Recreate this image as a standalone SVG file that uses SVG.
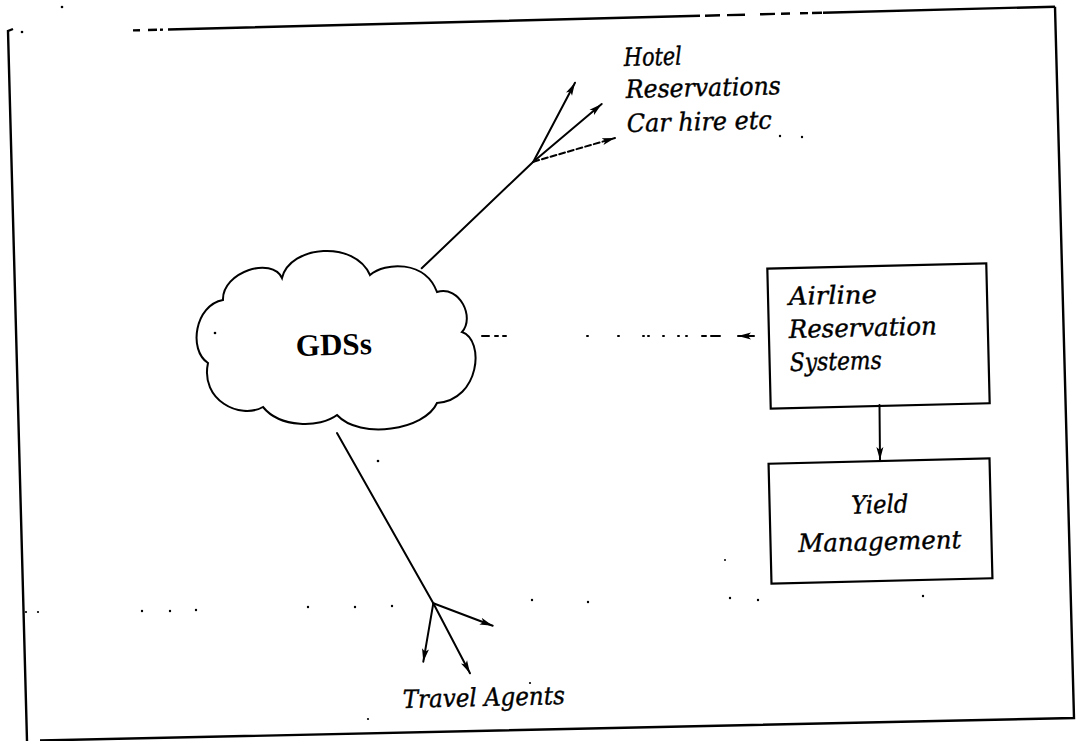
<svg xmlns="http://www.w3.org/2000/svg" width="1077" height="741" viewBox="0 0 1077 741">
<defs>
<style>
.ln{stroke:#000;stroke-width:2;fill:none;stroke-linecap:round}
.fr{stroke:#000;stroke-width:2.4;fill:none}
.bx{stroke:#000;stroke-width:2.2;fill:#fff}
.it{font-family:"DejaVu Serif","Liberation Serif",serif;font-style:italic;font-size:25px;fill:#000;stroke:#000;stroke-width:0.4}
.bd{font-family:"Liberation Serif","Times New Roman",serif;font-weight:bold;font-size:31px;fill:#000}
.sp{fill:#000}
</style>
<marker id="ah" markerUnits="userSpaceOnUse" markerWidth="14" markerHeight="8" refX="13" refY="4" orient="auto">
<path d="M0,0.5 L13,4 L0,7.5 L3,4 Z" fill="#000"/>
</marker>
</defs>
<rect width="1077" height="741" fill="#fff"/>
<g id="frame">
<path class="fr" d="M13,29 L8,31 L27,741"/>
<path class="fr" d="M133,30.4 L140,30.2 M148,30 L157,29.8 M160,29.7 L163,29.6 M168,29.5 L700,15.8 M705,15.7 L720,15.3 M727,15.1 L745,14.7 M760,14.3 L775,13.9 M781,13.7 L790,13.5 M800,13.3 L808,13.1 M812,13 L822,12.7 M823,12.7 L1055,6.7"/>
<path class="fr" d="M1055,6.7 L1074,718 L40,740.5"/>
</g>
<g id="gds">
<path class="ln" d="M223,300 C222,272 272,256 282,278 C290,245 355,240 370,275 C385,262 425,260 437,292 C460,285 475,318 462,332 C485,340 480,400 437,403 C425,430 360,440 337,415 C320,428 280,428 263,407 C240,420 200,400 208,363 C188,350 195,305 223,300 Z"/>
<text class="bd" x="334" y="355" text-anchor="middle" textLength="76" lengthAdjust="spacingAndGlyphs" transform="rotate(-1.4 334 355)">GDSs</text>
</g>
<g id="airline">
<rect class="bx" x="769" y="266" width="219" height="140" transform="rotate(-1.4 878 336)"/>
<text class="it" x="789" y="305" textLength="88" lengthAdjust="spacingAndGlyphs" transform="rotate(-1.4 789 305)">Airline</text>
<text class="it" x="789" y="338" textLength="148" lengthAdjust="spacingAndGlyphs" transform="rotate(-1.4 789 338)">Reservation</text>
<text class="it" x="790" y="371" textLength="92" lengthAdjust="spacingAndGlyphs" transform="rotate(-1.4 790 371)">Systems</text>
</g>
<g id="yield">
<rect class="bx" x="770" y="461" width="221" height="120" transform="rotate(-1.4 880 521)"/>
<text class="it" x="880" y="513" text-anchor="middle" textLength="57" lengthAdjust="spacingAndGlyphs" transform="rotate(-1.4 880 513)">Yield</text>
<text class="it" x="880" y="550" text-anchor="middle" textLength="163" lengthAdjust="spacingAndGlyphs" transform="rotate(-1.4 880 550)">Management</text>
</g>
<g id="hotel">
<text class="it" x="624" y="66" textLength="58" lengthAdjust="spacingAndGlyphs" transform="rotate(-1.4 624 66)">Hotel</text>
<text class="it" x="626" y="98" textLength="155" lengthAdjust="spacingAndGlyphs" transform="rotate(-1.4 626 98)">Reservations</text>
<text class="it" x="627" y="132" textLength="145" lengthAdjust="spacingAndGlyphs" transform="rotate(-1.4 627 132)">Car hire etc</text>
</g>
<g id="travel">
<text class="it" x="403" y="708" textLength="162" lengthAdjust="spacingAndGlyphs" transform="rotate(-1.4 403 708)">Travel Agents</text>
</g>
<g id="connectors">
<path class="ln" d="M421.7,268.3 L533.3,161.7"/>
<path class="ln" d="M533.3,161.7 L575,82.7" marker-end="url(#ah)"/>
<path class="ln" d="M533.3,161.7 L601.7,104" marker-end="url(#ah)"/>
<path class="ln" d="M533.3,161.7 L615,138" stroke-dasharray="6 3" marker-end="url(#ah)"/>
<path class="ln" d="M337,433 L433.3,603.3"/>
<path class="ln" d="M433.3,603.3 L423.3,661.7" marker-end="url(#ah)"/>
<path class="ln" d="M433.3,603.3 L470,673.3" marker-end="url(#ah)"/>
<path class="ln" d="M433.3,603.3 L492.7,625.7" marker-end="url(#ah)"/>
<path class="ln" d="M879.5,405 L880,460" marker-end="url(#ah)"/>
<path class="ln" d="M482,336 L489,336 M495,336 L498,336 M503,336 L506,336 M587,336 L588,336 M618,336 L619,336 M643,336 L644,336 M648,336 L649,336 M663,336 L664,336 M678,336 L679,336 M686,336 L687,336 M702,336 L706,336 M711,336 L720,336"/>
<path class="ln" d="M754,336 L738,336" marker-end="url(#ah)"/>
</g>
<g id="specks">
<circle class="sp" cx="62" cy="7" r="1.3"/>
<circle class="sp" cx="22" cy="32" r="1.3"/>
<circle class="sp" cx="215" cy="333" r="1.3"/>
<circle class="sp" cx="378" cy="461" r="1.3"/>
<circle class="sp" cx="780" cy="136" r="1.2"/>
<circle class="sp" cx="802" cy="137" r="1.2"/>
<circle class="sp" cx="26" cy="612" r="1.1"/>
<circle class="sp" cx="38" cy="612" r="1.1"/>
<circle class="sp" cx="142" cy="611" r="1.2"/>
<circle class="sp" cx="170" cy="611" r="1.2"/>
<circle class="sp" cx="196" cy="610" r="1.2"/>
<circle class="sp" cx="308" cy="607" r="1.2"/>
<circle class="sp" cx="355" cy="607" r="1.2"/>
<circle class="sp" cx="392" cy="606" r="1.2"/>
<circle class="sp" cx="532" cy="600" r="1.2"/>
<circle class="sp" cx="588" cy="602" r="1.2"/>
<circle class="sp" cx="730" cy="598" r="1.2"/>
<circle class="sp" cx="758" cy="600" r="1.2"/>
<circle class="sp" cx="923" cy="596" r="1.2"/>
<circle class="sp" cx="725" cy="560" r="1"/>
<circle class="sp" cx="530" cy="683" r="1.1"/>
<circle class="sp" cx="368" cy="719" r="1.1"/>
</g>
</svg>
